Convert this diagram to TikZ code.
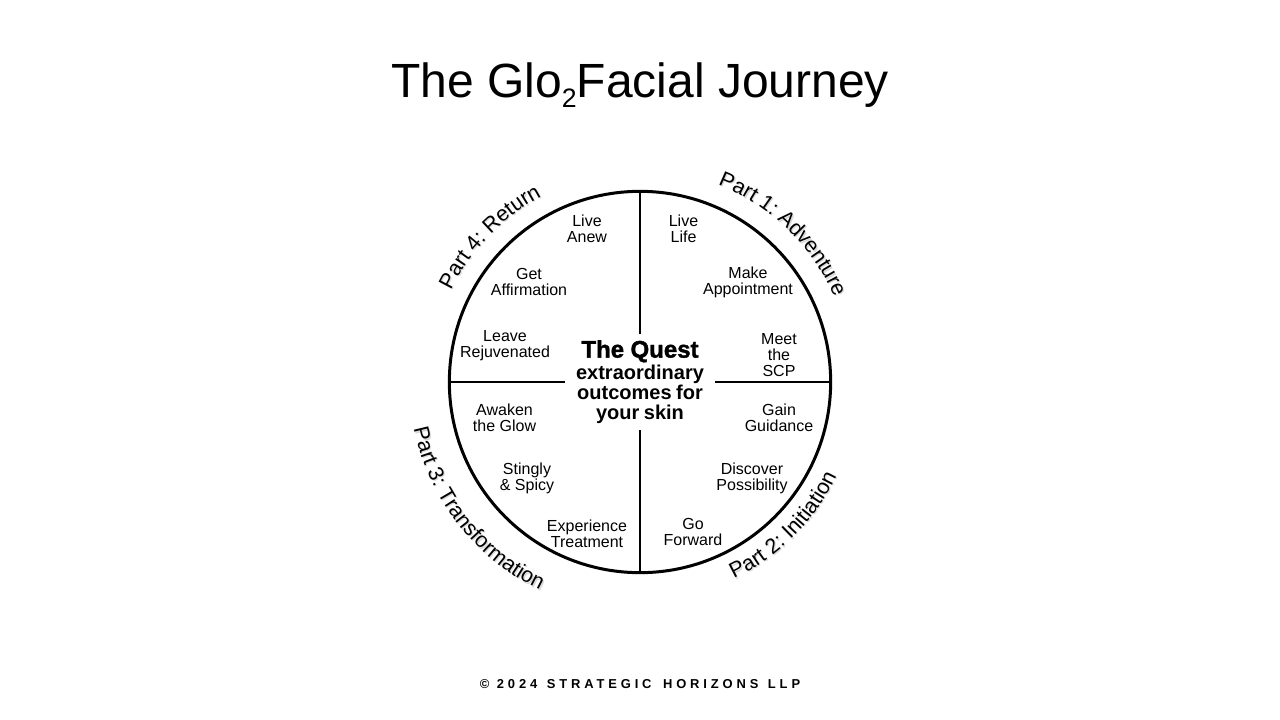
\documentclass[tikz,border=0pt]{standalone}
\usepackage{fontspec}
\setmainfont{Liberation Sans}
\newfontfamily\footfont[LetterSpace=30]{Liberation Sans}
\newfontfamily\questfont[FakeBold=1.5]{Liberation Sans Bold}
\usetikzlibrary{decorations.text}
\newcommand\arcfont{\fontsize{16pt}{18pt}\selectfont}

\tikzset{
  stage/.style={font=\fontsize{12pt}{12pt}\selectfont, align=center, inner sep=0pt},
  parttext/.style={decorate, decoration={text along path, text align=center, text={|\arcfont|#1}}},
  partshade/.style={decorate, decoration={text along path, text align=center, text={|\arcfont\color{black!15}|#1}}},
}

\begin{document}
\begin{tikzpicture}[x=0.75pt,y=0.75pt]

      \useasboundingbox (0,0) rectangle (1280,-720);

      \node[font=\fontsize{36pt}{40pt}\selectfont, anchor=base] (title) at (640,-98)
        {The Glo{\fontsize{20pt}{20pt}\selectfont\raisebox{-7pt}{2}}Facial Journey};

      \node[circle, draw, line width=2.25pt, minimum size=286pt, inner sep=0pt] (wheel) at (640,-382) {};

      \node[minimum width=112.5pt, minimum height=71.25pt, inner sep=0pt,
            text width=112.5pt, align=center] (quest) at (640,-382)
        {{\questfont\fontsize{18pt}{20pt}\selectfont The\kern1.5pt{} Quest}\par\vspace{1.5pt}
         {\fontsize{15pt}{15pt}\selectfont\bfseries extraordinary\\ outcomes for\\ your skin\par}};

      \begin{scope}[every edge/.style={draw, line width=1.5pt}]
        \path (wheel.north) edge (quest.north);
        \path (wheel.south) edge (quest.south);
        \path (wheel.west)  edge (quest.west);
        \path (wheel.east)  edge (quest.east);
      \end{scope}

      \begin{scope}[every node/.style={stage}]
        \node (s1)  at (683.5,-228.5) {Live\\Life};
        \node (s2)  at (748,-282)     {Make\\Appointment};
        \node (s3)  at (779,-355)     {Meet\\the\\SCP};
        \node (s4)  at (779,-418)     {Gain\\Guidance};
        \node (s5)  at (752,-478)     {Discover\\Possibility};
        \node (s6)  at (693,-532)     {Go\\Forward};
        \node (s7)  at (587,-534)     {Experience\\Treatment};
        \node (s8)  at (527,-478)     {Stingly\\\& Spicy};
        \node (s9)  at (504.5,-418)   {Awaken\\the Glow};
        \node (s10) at (505,-346)     {Leave\\Rejuvenated};
        \node (s11) at (529,-282)     {Get\\Affirmation};
        \node (s12) at (587,-228.5)   {Live\\Anew};
      \end{scope}

      \path[partshade={Part 1: Adventure}] ([shift={(1.2,-1.2)}]wheel.center) ++(76:212) arc[start angle=76, end angle=16, radius=212];
      \path[parttext={Part 1: Adventure}] (wheel.center) ++(76:212) arc[start angle=76, end angle=16, radius=212];

      \path[partshade={Part 2: Initiation}] ([shift={(1.2,-1.2)}]wheel.center) ++(-75:218) arc[start angle=-75, end angle=-15, radius=218];
      \path[parttext={Part 2: Initiation}] (wheel.center) ++(-75:218) arc[start angle=-75, end angle=-15, radius=218];

      \path[partshade={Part 3: Transformation}] ([shift={(1.2,-1.2)}]wheel.center) ++(178:231) arc[start angle=178, end angle=258, radius=231];
      \path[parttext={Part 3: Transformation}] (wheel.center) ++(178:231) arc[start angle=178, end angle=258, radius=231];

      \path[partshade={Part 4: Return}] ([shift={(1.2,-1.2)}]wheel.center) ++(166:210) arc[start angle=166, end angle=106, radius=210];
      \path[parttext={Part 4: Return}] (wheel.center) ++(166:210) arc[start angle=166, end angle=106, radius=210];

      \node[font=\footfont\fontsize{9.7pt}{11pt}\selectfont\bfseries, anchor=base] (footer) at (640,-688)
        {© 2024\kern1.5pt{} STRATEGIC\kern3pt{} HORIZONS\kern1.5pt{} LLP};

\end{tikzpicture}
\end{document}
